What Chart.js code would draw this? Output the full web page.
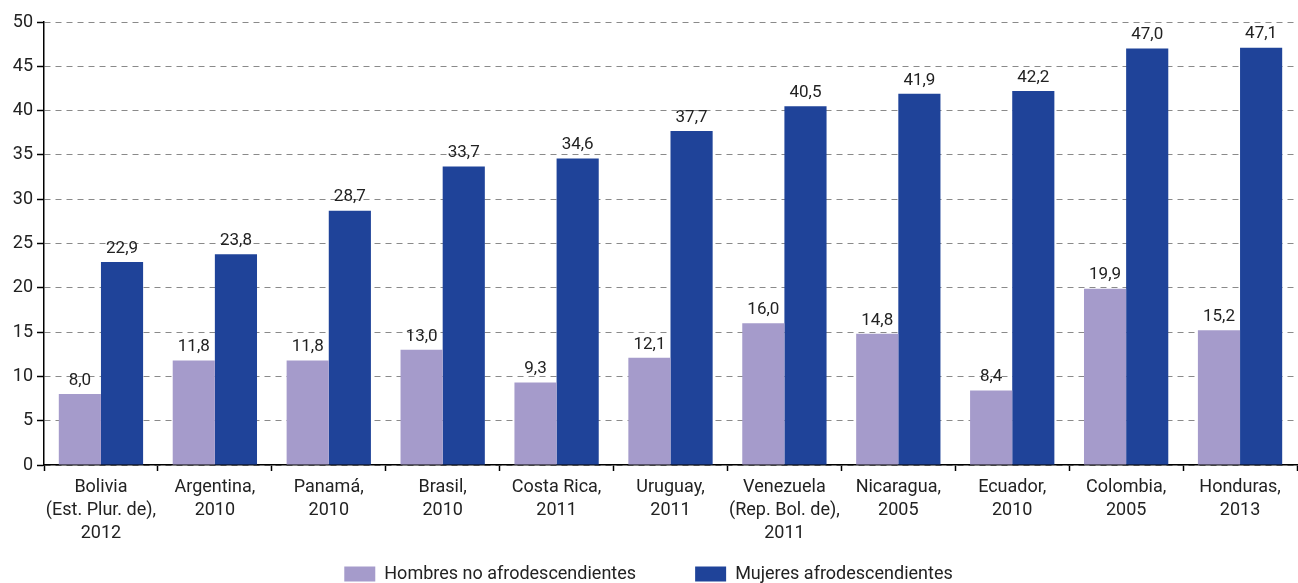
<!DOCTYPE html>
<html><head><meta charset="utf-8">
<script src="https://cdn.jsdelivr.net/npm/chart.js@4"></script>
<style>html,body{margin:0;padding:0;background:#fff}#wrap{width:1298px;height:583px}</style>
</head><body><div id="wrap"><canvas id="c" width="1298" height="583"></canvas></div>
<script>
const categories = [
  ["Bolivia","(Est. Plur. de),","2012"],
  ["Argentina,","2010"],
  ["Panamá,","2010"],
  ["Brasil,","2010"],
  ["Costa Rica,","2011"],
  ["Uruguay,","2011"],
  ["Venezuela","(Rep. Bol. de),","2011"],
  ["Nicaragua,","2005"],
  ["Ecuador,","2010"],
  ["Colombia,","2005"],
  ["Honduras,","2013"]
];
const hombresNoAfro = [8.0, 11.8, 11.8, 13.0, 9.3, 12.1, 16.0, 14.8, 8.4, 19.9, 15.2];
const mujeresAfro = [22.9, 23.8, 28.7, 33.7, 34.6, 37.7, 40.5, 41.9, 42.2, 47.0, 47.1];
const seriesNames = ["Hombres no afrodescendientes", "Mujeres afrodescendientes"];
const yTicks = [0,5,10,15,20,25,30,35,40,45,50];

const FONT = "Roboto, 'Liberation Sans Narrow', sans-serif";
const FS = 17;

const valueLabels = {
  id: 'valueLabels',
  afterDatasetsDraw(chart) {
    const ctx = chart.ctx;
    ctx.save();
    ctx.font = FS + 'px ' + FONT;
    ctx.fillStyle = '#222';
    ctx.textAlign = 'center';
    ctx.textBaseline = 'bottom';
    chart.data.datasets.forEach((ds, i) => {
      const meta = chart.getDatasetMeta(i);
      meta.data.forEach((el, j) => {
        ctx.fillText(ds.data[j].toFixed(1).replace('.', ','), el.x, el.y - 5);
      });
    });
    ctx.restore();
  }
};

new Chart(document.getElementById('c'), {
  type: 'bar',
  data: {
    labels: categories,
    datasets: [
      { label: seriesNames[0] + '\u2003\u2003\u2003', data: hombresNoAfro, backgroundColor: '#a59bcb', categoryPercentage: 0.74, barPercentage: 1.0 },
      { label: seriesNames[1], data: mujeresAfro, backgroundColor: '#1f4399', categoryPercentage: 0.74, barPercentage: 1.0 }
    ]
  },
  options: {
    responsive: false,
    animation: false,
    layout: { padding: { top: 22, right: 1, left: 0, bottom: -10 } },
    plugins: {
      legend: {
        position: 'bottom',
        labels: { boxWidth: 31, boxHeight: 15, padding: 4, color: '#222', font: { family: FONT, size: 18 } }
      },
      tooltip: { enabled: false }
    },
    scales: {
      x: {
        grid: { display: true, drawOnChartArea: false, offset: true, tickLength: 6, tickColor: '#000', tickWidth: 1.5 },
        border: { display: true, color: '#000', width: 1.5 },
        ticks: { color: '#222', font: { family: FONT, size: 18, lineHeight: 1.28 }, maxRotation: 0, autoSkip: false, padding: 5 },
        afterFit(s) { s.height = 96; }
      },
      y: {
        min: 0, max: 50,
        afterBuildTicks(s) { s.ticks = yTicks.map(v => ({ value: v })); },
        grid: { color: '#8a8a8a', lineWidth: 1, tickLength: 7, tickColor: '#000', tickWidth: 1.5, tickBorderDash: [] },
        border: { display: true, color: '#000', width: 1.5, dash: [6, 5] },
        ticks: { color: '#222', font: { family: FONT, size: 18 }, padding: 4 },
        afterFit(s) { s.width = 44; }
      }
    }
  },
  plugins: [valueLabels]
});
</script></body></html>
